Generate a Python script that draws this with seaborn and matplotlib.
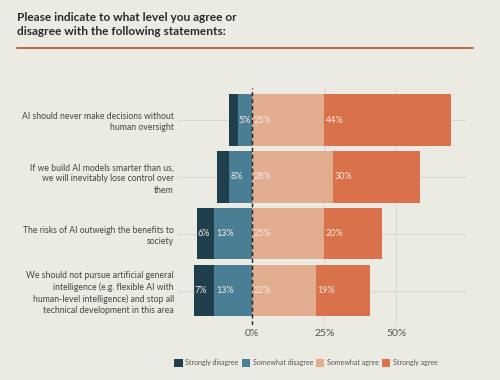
import matplotlib
matplotlib.use("Agg")
import matplotlib.pyplot as plt
from matplotlib.lines import Line2D
from matplotlib.patches import Patch
import pandas as pd
import seaborn as sns

# survey data (percent)
statements = [
    "AI should never make decisions without\nhuman oversight",
    "If we build AI models smarter than us,\nwe will inevitably lose control over\nthem",
    "The risks of AI outweigh the benefits to\nsociety",
    "We should not pursue artificial general\nintelligence (e.g. flexible AI with\nhuman-level intelligence) and stop all\ntechnical development in this area",
]
strongly_disagree = [3, 4, 6, 7]
somewhat_disagree = [5, 8, 13, 13]
somewhat_agree = [25, 28, 25, 22]
strongly_agree = [44, 30, 20, 19]

categories = ["Strongly disagree", "Somewhat disagree", "Somewhat agree", "Strongly agree"]
colors = ["#1f3f4d", "#4a7e94", "#e2ac8f", "#d9714a"]
BG = "#ebeae3"

df = pd.DataFrame({
    "statement": statements,
    "sd": strongly_disagree,
    "wd": somewhat_disagree,
    "wa": somewhat_agree,
    "sa": strongly_agree,
})
df["neg_total"] = -(df["sd"] + df["wd"])
df["neg_inner"] = -df["wd"]
df["pos_total"] = df["wa"] + df["sa"]

sns.set_theme(style="white")
plt.rcParams["font.family"] = ["Lato", "DejaVu Sans"]

fig = plt.figure(figsize=(5, 3.8), dpi=100, facecolor=BG)
ax = fig.add_axes([0.356, 0.145, 0.578, 0.623])
ax.set_facecolor(BG)

# stacked diverging bars: draw outer totals first, inner segments on top
for col, c in [("neg_total", colors[0]), ("neg_inner", colors[1]),
               ("pos_total", colors[3]), ("wa", colors[2])]:
    sns.barplot(data=df, x=col, y="statement", orient="h", color=c,
                width=0.9, saturation=1, edgecolor="none", linewidth=0,
                ax=ax, zorder=3)

# value labels at the left edge of each segment
lbl_kw = dict(color="#f6ece2", fontsize=6.5, va="center", ha="left", zorder=5)
for i, row in df.iterrows():
    if row["sd"] >= 5:
        ax.text(row["neg_total"] + 0.2, i, f"{row['sd']}%", **lbl_kw)
    ax.text(row["neg_inner"] + 0.5, i, f"{row['wd']}%", **lbl_kw)
    ax.text(0.5, i, f"{row['wa']}%", **lbl_kw)
    ax.text(row["wa"] + 0.5, i, f"{row['sa']}%", **lbl_kw)

ax.axvline(0, color="#222222", lw=1, ls=(0, (3, 2)), zorder=6)
for x in [25, 50]:
    ax.axvline(x, color="#dad8cf", lw=0.8, zorder=1)
for i in range(len(statements)):
    ax.axhline(i, color="#dad8cf", lw=0.8, zorder=1)

ax.set_xlim(-25.6, 74.4)
ax.set_ylim(3.6, -0.56)
ax.set_xticks([0, 25, 50])
ax.set_xticklabels(["0%", "25%", "50%"], fontsize=7.5, color="#555555")
ax.set_yticks(range(len(statements)))
ax.set_yticklabels(statements, fontsize=6.2, color="#444444", ha="right",
                   linespacing=1.3)
ax.tick_params(axis="both", length=0, pad=3)
ax.set_xlabel("")
ax.set_ylabel("")
for s in ax.spines.values():
    s.set_visible(False)

fig.text(0.034, 0.968, "Please indicate to what level you agree or\ndisagree with the following statements:",
         fontsize=8.6, fontweight="bold", color="#2a2a2a", va="top", ha="left",
         linespacing=1.35)
fig.add_artist(Line2D([0.034, 0.946], [0.874, 0.874], color="#c0663f", lw=1.4,
                      transform=fig.transFigure))

handles = [Patch(facecolor=c, edgecolor="none") for c in colors]
fig.legend(handles, categories, loc="center", bbox_to_anchor=(0.612, 0.045),
           ncol=4, frameon=False, fontsize=5, handlelength=1.2, handleheight=1.2,
           handletextpad=0.4, columnspacing=0.4, labelcolor="#555555")

fig.savefig("out.png", dpi=100, facecolor=BG)
